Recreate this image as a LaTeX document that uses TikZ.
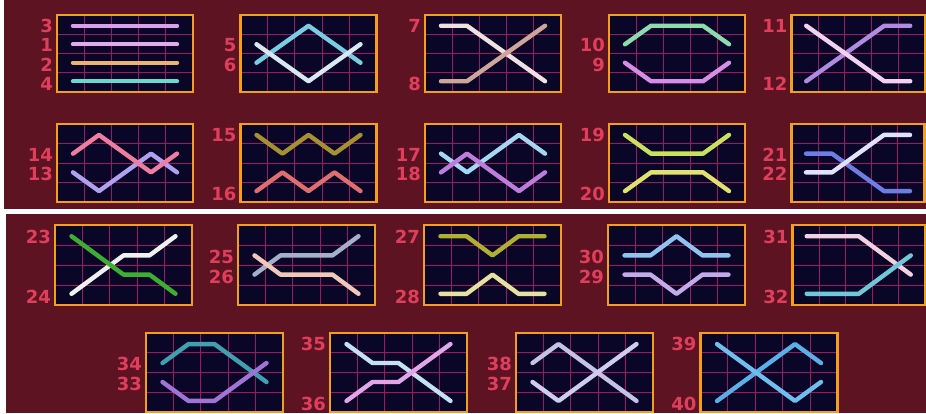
\documentclass[tikz,border=0pt]{standalone}
\usepackage{fontspec}
\newfontfamily\lblfont{DejaVu Sans}
\usetikzlibrary{calc}
\definecolor{bgc}{RGB}{94,19,35}
\definecolor{panelc}{RGB}{10,6,40}
\definecolor{gridc}{RGB}{155,25,98}
\definecolor{borderc}{RGB}{240,160,30}
\definecolor{labelc}{RGB}{225,62,92}
\definecolor{c1}{RGB}{225,170,235}
\definecolor{c2}{RGB}{235,180,110}
\definecolor{c3}{RGB}{215,160,235}
\definecolor{c4}{RGB}{110,215,205}
\definecolor{c5}{RGB}{215,232,240}
\definecolor{c6}{RGB}{120,205,225}
\definecolor{c7}{RGB}{240,225,225}
\definecolor{c8}{RGB}{205,165,155}
\definecolor{c9}{RGB}{215,140,230}
\definecolor{c10}{RGB}{140,220,175}
\definecolor{c11}{RGB}{240,210,240}
\definecolor{c12}{RGB}{175,140,225}
\definecolor{c13}{RGB}{175,160,240}
\definecolor{c14}{RGB}{240,125,160}
\definecolor{c15}{RGB}{165,145,50}
\definecolor{c16}{RGB}{225,110,110}
\definecolor{c17}{RGB}{165,215,240}
\definecolor{c18}{RGB}{190,125,220}
\definecolor{c19}{RGB}{200,225,95}
\definecolor{c20}{RGB}{225,225,110}
\definecolor{c21}{RGB}{110,125,225}
\definecolor{c22}{RGB}{225,225,250}
\definecolor{c23}{RGB}{60,175,50}
\definecolor{c24}{RGB}{240,240,240}
\definecolor{c25}{RGB}{240,200,185}
\definecolor{c26}{RGB}{165,175,200}
\definecolor{c27}{RGB}{175,175,50}
\definecolor{c28}{RGB}{230,225,160}
\definecolor{c29}{RGB}{195,170,232}
\definecolor{c30}{RGB}{145,195,240}
\definecolor{c31}{RGB}{240,210,225}
\definecolor{c32}{RGB}{110,200,215}
\definecolor{c33}{RGB}{160,115,215}
\definecolor{c34}{RGB}{65,160,175}
\definecolor{c35}{RGB}{195,225,240}
\definecolor{c36}{RGB}{225,165,232}
\definecolor{c37}{RGB}{205,205,240}
\definecolor{c38}{RGB}{195,195,232}
\definecolor{c39}{RGB}{110,190,240}
\definecolor{c40}{RGB}{90,175,230}
\tikzset{
  pl/.style={line width=4.4pt, line cap=round, line join=round, draw=#1},
  lbl/.style={font=\lblfont\bfseries\fontsize{18}{18}\selectfont, text=labelc, anchor=east, inner sep=0pt},
  gridln/.style={draw=gridc, line width=1pt},
  pborder/.style={draw=borderc, line width=2.2pt},
}
\newcommand\pnl[5]{%
  \fill[panelc] (#2,#3) rectangle ++(#4,#5);
  \foreach \k in {1,...,4}{\draw[gridln] ({#2+\k*#4/5},#3) -- ++(0,#5);}
  \foreach \k in {1,...,3}{\draw[gridln] (#2,{#3+\k*#5/4}) -- ++(#4,0);}
  \node[pborder, minimum width=#4pt, minimum height=#5pt, anchor=north west, inner sep=0pt, outer sep=0pt] (#1) at (#2,#3) {};
  \foreach \c in {1,...,5}{\foreach \r in {1,...,4}{%
    \coordinate (#1-\c-\r) at ($(#1.center)+({(\c-3)*26},{(\r-2.5)*0.96*#5/4})$);}}
  \foreach \r in {1,...,4}{\coordinate (#1-L\r) at ($(#1.west)+(-4,{(\r-2.5)*#5/4+1.5})$);}
}
\begin{document}
\begin{tikzpicture}[x=1pt,y=-1pt]
\useasboundingbox (0,0) rectangle (926,413);
\fill[white] (0,0) rectangle (926,413);
\fill[bgc] (4,0) rectangle (926,209);
\fill[bgc] (6,214) rectangle (926,413);
% panels
\pnl{A}{57}{15}{136}{77}
\pnl{B}{240.5}{15}{136}{77}
\pnl{C}{425}{15}{136}{77}
\pnl{D}{609}{15}{136}{77}
\pnl{E}{791.5}{15}{133.5}{77}
\pnl{F}{57}{124}{136}{78}
\pnl{G}{240.5}{124}{136}{78}
\pnl{H}{425}{124}{136}{78}
\pnl{I}{609}{124}{136}{78}
\pnl{J}{791.5}{124}{133}{78}
\pnl{K}{55}{225}{137}{80}
\pnl{L}{238}{225}{137}{80}
\pnl{M}{424}{225}{137}{80}
\pnl{N}{608}{225}{137}{80}
\pnl{O}{792.5}{225}{132.5}{80}
\pnl{P}{146}{333}{137}{79}
\pnl{Q}{330}{333}{137}{79}
\pnl{R}{516}{333}{137}{79}
\pnl{S}{700.5}{333}{137}{79}
% paylines
\draw[pl=c3] (A-1-1) -- (A-5-1);
\draw[pl=c1] (A-1-2) -- (A-5-2);
\draw[pl=c2] (A-1-3) -- (A-5-3);
\draw[pl=c4] (A-1-4) -- (A-5-4);
\draw[pl=c6] (B-1-3) -- (B-3-1) -- (B-5-3);
\draw[pl=c5] (B-1-2) -- (B-3-4) -- (B-5-2);
\draw[pl=c7] (C-1-1) -- (C-2-1) -- (C-5-4);
\draw[pl=c8] (C-1-4) -- (C-2-4) -- (C-5-1);
\draw[pl=c10] (D-1-2) -- (D-2-1) -- (D-4-1) -- (D-5-2);
\draw[pl=c9] (D-1-3) -- (D-2-4) -- (D-4-4) -- (D-5-3);
\draw[pl=c12] (E-1-4) -- (E-4-1) -- (E-5-1);
\draw[pl=c11] (E-1-1) -- (E-4-4) -- (E-5-4);
\draw[pl=c13] (F-1-3) -- (F-2-4) -- (F-4-2) -- (F-5-3);
\draw[pl=c14] (F-1-2) -- (F-2-1) -- (F-4-3) -- (F-5-2);
\draw[pl=c15] (G-1-1) -- (G-2-2) -- (G-3-1) -- (G-4-2) -- (G-5-1);
\draw[pl=c16] (G-1-4) -- (G-2-3) -- (G-3-4) -- (G-4-3) -- (G-5-4);
\draw[pl=c17] (H-1-2) -- (H-2-3) -- (H-4-1) -- (H-5-2);
\draw[pl=c18] (H-1-3) -- (H-2-2) -- (H-4-4) -- (H-5-3);
\draw[pl=c19] (I-1-1) -- (I-2-2) -- (I-4-2) -- (I-5-1);
\draw[pl=c20] (I-1-4) -- (I-2-3) -- (I-4-3) -- (I-5-4);
\draw[pl=c21] (J-1-2) -- (J-2-2) -- (J-4-4) -- (J-5-4);
\draw[pl=c22] (J-1-3) -- (J-2-3) -- (J-4-1) -- (J-5-1);
\draw[pl=c24] (K-1-4) -- (K-3-2) -- (K-4-2) -- (K-5-1);
\draw[pl=c23] (K-1-1) -- (K-3-3) -- (K-4-3) -- (K-5-4);
\draw[pl=c26] (L-1-3) -- (L-2-2) -- (L-4-2) -- (L-5-1);
\draw[pl=c25] (L-1-2) -- (L-2-3) -- (L-4-3) -- (L-5-4);
\draw[pl=c27] (M-1-1) -- (M-2-1) -- (M-3-2) -- (M-4-1) -- (M-5-1);
\draw[pl=c28] (M-1-4) -- (M-2-4) -- (M-3-3) -- (M-4-4) -- (M-5-4);
\draw[pl=c30] (N-1-2) -- (N-2-2) -- (N-3-1) -- (N-4-2) -- (N-5-2);
\draw[pl=c29] (N-1-3) -- (N-2-3) -- (N-3-4) -- (N-4-3) -- (N-5-3);
\draw[pl=c31] (O-1-1) -- (O-3-1) -- (O-5-3);
\draw[pl=c32] (O-1-4) -- (O-3-4) -- (O-5-2);
\draw[pl=c34] (P-1-2) -- (P-2-1) -- (P-3-1) -- (P-5-3);
\draw[pl=c33] (P-1-3) -- (P-2-4) -- (P-3-4) -- (P-5-2);
\draw[pl=c35] (Q-1-1) -- (Q-2-2) -- (Q-3-2) -- (Q-5-4);
\draw[pl=c36] (Q-1-4) -- (Q-2-3) -- (Q-3-3) -- (Q-5-1);
\draw[pl=c38] (R-1-2) -- (R-2-1) -- (R-5-4);
\draw[pl=c37] (R-1-3) -- (R-2-4) -- (R-5-1);
\draw[pl=c40] (S-1-4) -- (S-4-1) -- (S-5-2);
\draw[pl=c39] (S-1-1) -- (S-4-4) -- (S-5-3);
% labels
\node[lbl] (n3) at (A-L1) {3};
\node[lbl] (n1) at (A-L2) {1};
\node[lbl] (n2) at (A-L3) {2};
\node[lbl] (n4) at (A-L4) {4};
\node[lbl] (n5) at (B-L2) {5};
\node[lbl] (n6) at (B-L3) {6};
\node[lbl] (n7) at (C-L1) {7};
\node[lbl] (n8) at (C-L4) {8};
\node[lbl] (n10) at (D-L2) {10};
\node[lbl] (n9) at (D-L3) {9};
\node[lbl] (n11) at (E-L1) {11};
\node[lbl] (n12) at (E-L4) {12};
\node[lbl] (n14) at (F-L2) {14};
\node[lbl] (n13) at (F-L3) {13};
\node[lbl] (n15) at (G-L1) {15};
\node[lbl] (n16) at (G-L4) {16};
\node[lbl] (n17) at (H-L2) {17};
\node[lbl] (n18) at (H-L3) {18};
\node[lbl] (n19) at (I-L1) {19};
\node[lbl] (n20) at (I-L4) {20};
\node[lbl] (n21) at (J-L2) {21};
\node[lbl] (n22) at (J-L3) {22};
\node[lbl] (n23) at (K-L1) {23};
\node[lbl] (n24) at (K-L4) {24};
\node[lbl] (n25) at (L-L2) {25};
\node[lbl] (n26) at (L-L3) {26};
\node[lbl] (n27) at (M-L1) {27};
\node[lbl] (n28) at (M-L4) {28};
\node[lbl] (n30) at (N-L2) {30};
\node[lbl] (n29) at (N-L3) {29};
\node[lbl] (n31) at (O-L1) {31};
\node[lbl] (n32) at (O-L4) {32};
\node[lbl] (n34) at (P-L2) {34};
\node[lbl] (n33) at (P-L3) {33};
\node[lbl] (n35) at (Q-L1) {35};
\node[lbl] (n36) at (Q-L4) {36};
\node[lbl] (n38) at (R-L2) {38};
\node[lbl] (n37) at (R-L3) {37};
\node[lbl] (n39) at (S-L1) {39};
\node[lbl] (n40) at (S-L4) {40};
\end{tikzpicture}
\end{document}
